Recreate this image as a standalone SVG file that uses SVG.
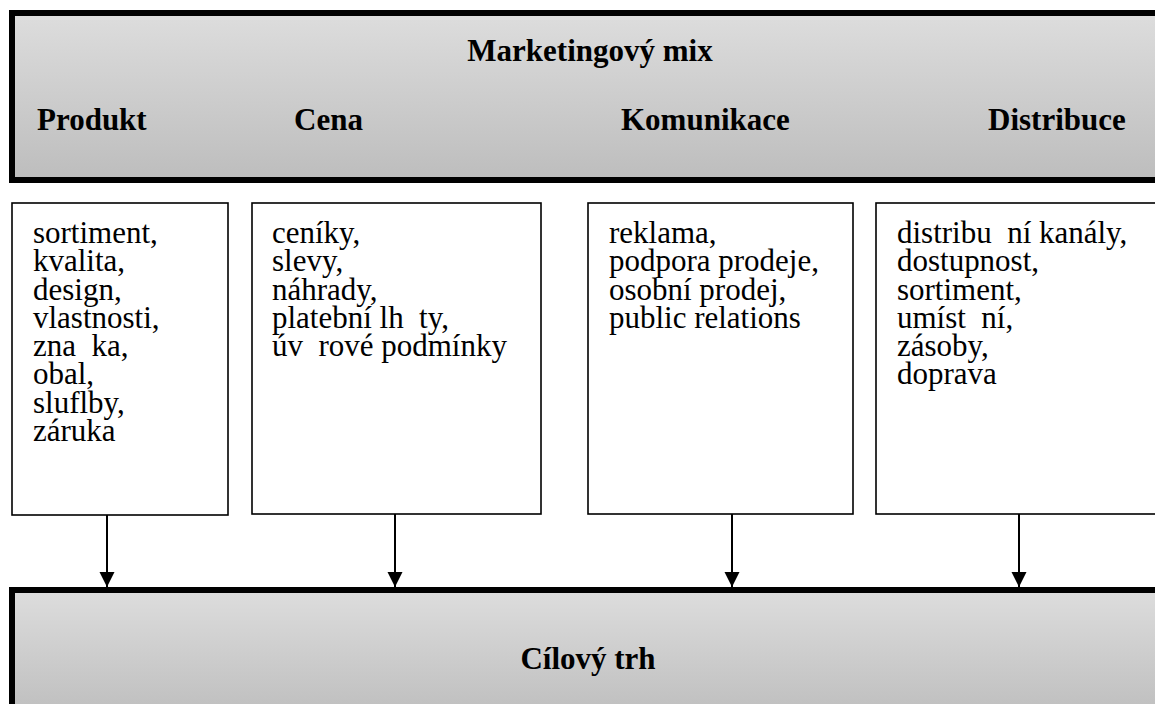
<svg xmlns="http://www.w3.org/2000/svg" width="1155" height="704" viewBox="0 0 1155 704">
<style>
.hdr{font-family:"Liberation Serif","Times New Roman",serif;font-weight:bold;font-size:31px;fill:#000}
.lst{font-family:"Liberation Serif","Times New Roman",serif;font-size:31px;fill:#000}
.big{stroke:#000;stroke-width:6}
.box{fill:#fff;stroke:#000;stroke-width:1.6}
.con{stroke:#000;stroke-width:2;fill:none}
</style>
<defs>
<linearGradient id="g1" x1="0" y1="0" x2="0" y2="1">
<stop offset="0" stop-color="#dddddd"/>
<stop offset="1" stop-color="#bdbdbd"/>
</linearGradient>
<marker id="ah" markerWidth="15" markerHeight="16" refX="15" refY="7.5" orient="auto" markerUnits="userSpaceOnUse" viewBox="0 0 15 15">
<path d="M0,0 L15,7.5 L0,15 Z" fill="#000"/>
</marker>
</defs>
<rect width="1155" height="704" fill="#fff"/>
<g id="marketing-mix">
<rect class="big" x="12" y="13" width="1160" height="167" fill="url(#g1)"/>
<text class="hdr" x="590" y="61" text-anchor="middle">Marketingový mix</text>
<text class="hdr" x="37" y="130">Produkt</text>
<text class="hdr" x="294" y="130">Cena</text>
<text class="hdr" x="621" y="130">Komunikace</text>
<text class="hdr" x="988" y="130">Distribuce</text>
</g>
<g id="produkt">
<rect class="box" x="12" y="203" width="216" height="312"/>
<text class="lst" xml:space="preserve" transform="translate(0,243) scale(1,1.05)"><tspan x="33" y="0">sortiment,</tspan><tspan x="33" y="26.95">kvalita,</tspan><tspan x="33" y="53.9">design,</tspan><tspan x="33" y="80.86">vlastnosti,</tspan><tspan x="33" y="107.81">zna  ka,</tspan><tspan x="33" y="134.76">obal,</tspan><tspan x="33" y="161.71">sluflby,</tspan><tspan x="33" y="188.67">záruka</tspan></text>
</g>
<g id="cena">
<rect class="box" x="252" y="203" width="289" height="311"/>
<text class="lst" xml:space="preserve" transform="translate(0,243) scale(1,1.05)"><tspan x="272" y="0">ceníky,</tspan><tspan x="272" y="26.95">slevy,</tspan><tspan x="272" y="53.9">náhrady,</tspan><tspan x="272" y="80.86">platební lh  ty,</tspan><tspan x="272" y="107.81">úv  rové podmínky</tspan></text>
</g>
<g id="komunikace">
<rect class="box" x="588" y="203" width="265" height="311"/>
<text class="lst" transform="translate(0,243) scale(1,1.05)"><tspan x="609" y="0">reklama,</tspan><tspan x="609" y="26.95">podpora prodeje,</tspan><tspan x="609" y="53.9">osobní prodej,</tspan><tspan x="609" y="80.86">public relations</tspan></text>
</g>
<g id="distribuce">
<rect class="box" x="876" y="203" width="300" height="311"/>
<text class="lst" xml:space="preserve" transform="translate(0,243) scale(1,1.05)"><tspan x="897" y="0">distribu  ní kanály,</tspan><tspan x="897" y="26.95">dostupnost,</tspan><tspan x="897" y="53.9">sortiment,</tspan><tspan x="897" y="80.86">umíst  ní,</tspan><tspan x="897" y="107.81">zásoby,</tspan><tspan x="897" y="134.76">doprava</tspan></text>
</g>
<g id="cilovy-trh">
<rect class="big" x="12" y="590" width="1160" height="130" fill="url(#g1)"/>
<text class="hdr" x="588" y="669" text-anchor="middle">Cílový trh</text>
</g>
<g id="connectors">
<line class="con" x1="107" y1="515" x2="107" y2="587" marker-end="url(#ah)"/>
<line class="con" x1="395" y1="514" x2="395" y2="587" marker-end="url(#ah)"/>
<line class="con" x1="732" y1="514" x2="732" y2="587" marker-end="url(#ah)"/>
<line class="con" x1="1019" y1="514" x2="1019" y2="587" marker-end="url(#ah)"/>
</g>
</svg>
